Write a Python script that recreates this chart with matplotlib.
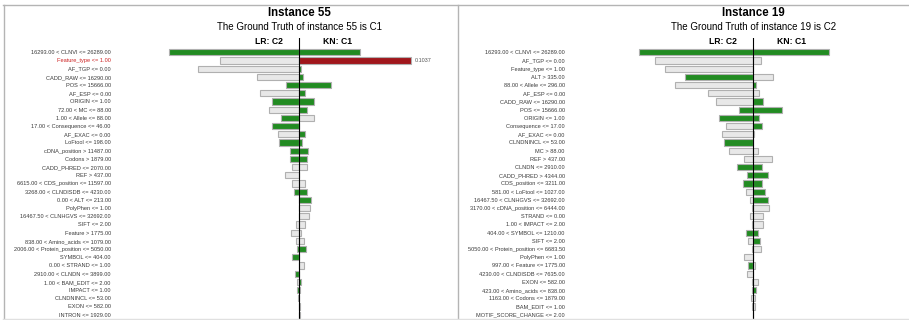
import numpy as np
import matplotlib
matplotlib.use("Agg")
import matplotlib.pyplot as plt

plt.rcParams["font.family"] = ["Liberation Sans", "DejaVu Sans"]

# Feature conditions, top to bottom, for each instance
features_55 = [
    "16293.00 < CLNVI <= 26289.00", "Feature_type <= 1.00", "AF_TGP <= 0.00",
    "CADD_RAW <= 16290.00", "POS <= 15666.00", "AF_ESP <= 0.00", "ORIGIN <= 1.00",
    "72.00 < MC <= 88.00", "1.00 < Allele <= 88.00", "17.00 < Consequence <= 46.00",
    "AF_EXAC <= 0.00", "LoFtool <= 198.00", "cDNA_position > 11487.00",
    "Codons > 1879.00", "CADD_PHRED <= 2070.00", "REF > 437.00",
    "6615.00 < CDS_position <= 11597.00", "3268.00 < CLNDISDB <= 4230.00",
    "0.00 < ALT <= 213.00", "PolyPhen <= 1.00", "16467.50 < CLNHGVS <= 32692.00",
    "SIFT <= 2.00", "Feature > 1775.00", "838.00 < Amino_acids <= 1079.00",
    "2006.00 < Protein_position <= 5050.00", "SYMBOL <= 404.00",
    "0.00 < STRAND <= 1.00", "2910.00 < CLNDN <= 3899.00", "1.00 < BAM_EDIT <= 2.00",
    "IMPACT <= 1.00", "CLNDNINCL <= 53.00", "EXON <= 582.00", "INTRON <= 1929.00",
]
features_19 = [
    "16293.00 < CLNVI <= 26289.00", "AF_TGP <= 0.00", "Feature_type <= 1.00",
    "ALT > 335.00", "88.00 < Allele <= 296.00", "AF_ESP <= 0.00",
    "CADD_RAW <= 16290.00", "POS <= 15666.00", "ORIGIN <= 1.00",
    "Consequence <= 17.00", "AF_EXAC <= 0.00", "CLNDNINCL <= 53.00", "MC > 88.00",
    "REF > 437.00", "CLNDN <= 2910.00", "CADD_PHRED > 4344.00",
    "CDS_position <= 3211.00", "581.00 < LoFtool <= 1027.00",
    "16467.50 < CLNHGVS <= 32692.00", "3170.00 < cDNA_position <= 6444.00",
    "STRAND <= 0.00", "1.00 < IMPACT <= 2.00", "404.00 < SYMBOL <= 1210.00",
    "SIFT <= 2.00", "5050.00 < Protein_position <= 6683.50", "PolyPhen <= 1.00",
    "997.00 < Feature <= 1775.00", "4230.00 < CLNDISDB <= 7635.00", "EXON <= 582.00",
    "423.00 < Amino_acids <= 838.00", "1163.00 < Codons <= 1879.00",
    "BAM_EDIT <= 1.00", "MOTIF_SCORE_CHANGE <= 2.00",
]

# Signed weights: positive supports the model's predicted class, negative opposes it
lr_55 = [0.1213, -0.0738, -0.0940, -0.0391, 0.0124, -0.0363, 0.0251, -0.0279,
         0.0173, 0.0254, -0.0196, 0.0186, 0.0089, 0.0089, -0.0071, -0.0133,
         -0.0065, 0.0049, 0.0, 0.0, -0.0007, -0.0034, -0.0074, -0.0034,
         0.0019, 0.0068, 0.0, 0.0040, -0.0025, 0.0025, 0.0016, 0.0, 0.0005]
kn_55 = [0.0568, 0.1037, 0.0013, 0.0037, 0.0292, 0.0053, 0.0140, 0.0069,
         -0.0137, 0.0, 0.0053, 0.0025, 0.0081, 0.0074, -0.0072, 0.0,
         -0.0056, 0.0072, 0.0109, -0.0102, -0.0093, -0.0056, -0.0019, -0.0047,
         0.0059, 0.0, -0.0040, 0.0, 0.0016, 0.0007, 0.0, 0.0009, 0.0005]
lr_19 = [0.1064, -0.0915, -0.0822, 0.0636, -0.0733, -0.0422, -0.0345, 0.0130,
         0.0317, -0.0258, -0.0291, 0.0277, -0.0230, -0.0090, 0.0149, 0.0056,
         0.0100, -0.0065, -0.0028, -0.0016, -0.0028, -0.0016, 0.0065, -0.0047,
         -0.0016, -0.0087, 0.0053, -0.0056, -0.0016, 0.0009, -0.0021, -0.0009, 0.0]
kn_19 = [0.0708, -0.0074, 0.0, -0.0180, 0.0025, -0.0053, 0.0093, 0.0264,
         0.0056, 0.0081, -0.0007, 0.0, -0.0040, -0.0177, 0.0077, 0.0137,
         0.0077, 0.0105, 0.0137, -0.0146, -0.0090, -0.0090, 0.0044, 0.0059,
         -0.0074, 0.0, -0.0016, 0.0, -0.0040, 0.0025, -0.0012, -0.0012, 0.0]

panels = [
    dict(inst=55, truth="C1", feats=features_55, lr=lr_55, kn=kn_55, highlight=1),
    dict(inst=19, truth="C2", feats=features_19, lr=lr_19, kn=kn_19, highlight=None),
]

GREEN = "#228b22"
GREY = "#e8e8e8"
RED = "#a0161b"
EDGE = "#b0b0b0"

W, H = 909, 320
fig = plt.figure(figsize=(W / 100, H / 100), dpi=100)

xmin, xmax = -0.1716, 0.1450
row0, pitch = 52.3, 8.2
ax_top = 38
ylim = ((H - row0) / pitch, (ax_top - row0) / pitch)

for k, p in enumerate(panels):
    left_px = 115 + k * 454
    ax = fig.add_axes([left_px / W, 0, 340 / W, 1 - ax_top / H])
    n = len(p["feats"])
    y = np.arange(n)
    lr = np.array(p["lr"])
    kn = np.array(p["kn"])
    lr_col = [GREEN if v > 0 else GREY for v in lr]
    kn_col = [GREEN if v > 0 else GREY for v in kn]
    if p["highlight"] is not None:
        kn_col[p["highlight"]] = RED
    ax.barh(y, -np.abs(lr), height=0.78, color=lr_col, edgecolor=EDGE, linewidth=0.8)
    ax.barh(y, np.abs(kn), height=0.78, color=kn_col, edgecolor=EDGE, linewidth=0.8)
    ax.axvline(0, color="black", linewidth=0.8)
    if p["highlight"] is not None:
        h = p["highlight"]
        ax.text(abs(kn[h]) + 0.004, h, f"{abs(kn[h]):.4f}", fontsize=3.9,
                color="#555555", va="center", ha="left")
    ax.set_xlim(xmin, xmax)
    ax.set_ylim(*ylim)
    ax.set_yticks(y)
    ax.set_yticklabels(p["feats"], fontsize=4.1, color="#3a3a3a")
    if p["highlight"] is not None:
        ax.get_yticklabels()[p["highlight"]].set_color("#cc2222")
    ax.tick_params(axis="y", length=0, pad=3)
    ax.set_xticks([])
    for s in ax.spines.values():
        s.set_visible(False)

    cx = (left_px + 340 * (-xmin) / (xmax - xmin)) / W
    fig.text(cx, 1 - 13 / H, f"Instance {p['inst']}", ha="center", va="center",
             fontsize=8.3, fontweight="bold")
    fig.text(cx, 1 - 27.5 / H, f"The Ground Truth of instance {p['inst']} is {p['truth']}",
             ha="center", va="center", fontsize=7)
    fig.text(cx - 30 / W, 1 - 42 / H, "LR: C2", ha="center", va="center",
             fontsize=6.2, fontweight="bold")
    fig.text(cx + 38 / W, 1 - 42 / H, "KN: C1", ha="center", va="center",
             fontsize=6.2, fontweight="bold")

# panel frames
line_kw = dict(color="#b4b4b4", linewidth=1.0, transform=fig.transFigure)
fig.add_artist(plt.Line2D([3 / W, 909 / W], [1 - 5 / H, 1 - 5 / H], **line_kw))
fig.add_artist(plt.Line2D([3.5 / W, 3.5 / W], [1 - 5 / H, 1 - 318.5 / H], **line_kw))
fig.add_artist(plt.Line2D([457.5 / W, 457.5 / W], [1 - 5 / H, 1 - 318.5 / H], **line_kw))
fig.add_artist(plt.Line2D([3 / W, 909 / W], [1 - 318.5 / H, 1 - 318.5 / H],
                          color="#e0e0e0", linewidth=1.0, transform=fig.transFigure))

fig.savefig("out.png", dpi=100)
